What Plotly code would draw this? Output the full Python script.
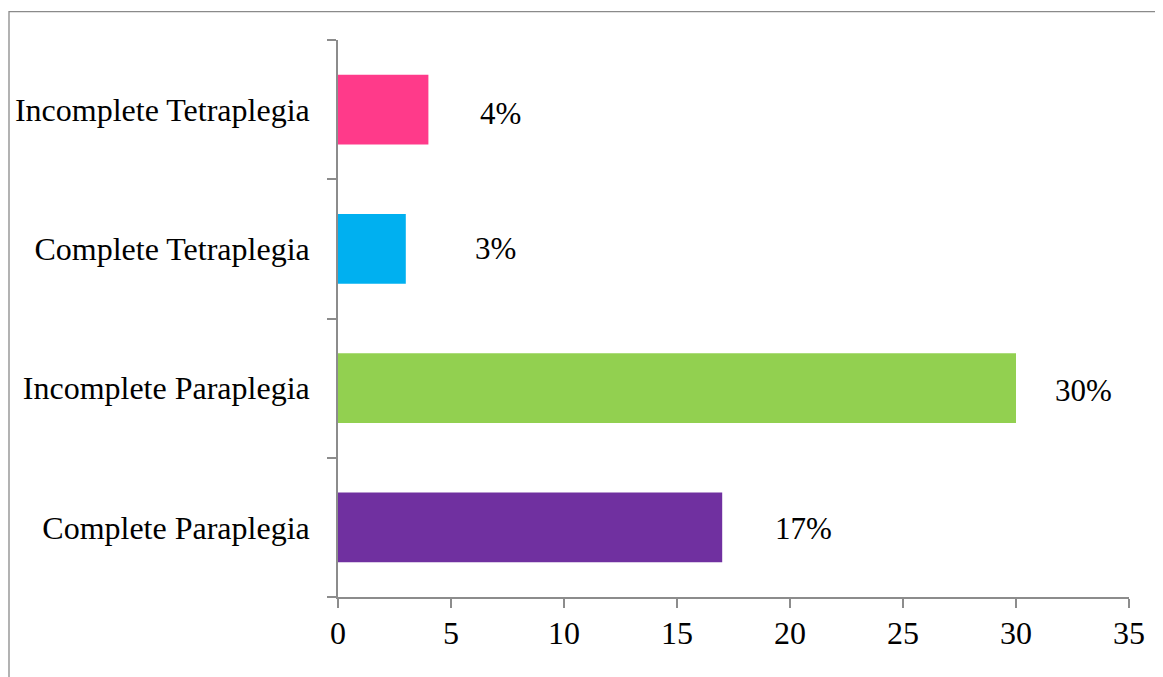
import plotly.graph_objects as go

categories = ["Complete Paraplegia", "Incomplete Paraplegia", "Complete Tetraplegia", "Incomplete Tetraplegia"]
values = [17, 30, 3, 4]
labels = ["17%", "30%", "3%", "4%"]
colors = ["#7030A0", "#92D050", "#00B0F0", "#FF3A8A"]
label_x = [20.6, 33.0, 6.95, 7.21]
label_shift = [-1, -2, 0, -4]

W, H = 1163, 677
OFF = 8  # page body margin
L, R, T, B = 338 - OFF, 34 + OFF, 40 - OFF, 80 + OFF
FONT = "Liberation Serif, Times New Roman, serif"
AXC = "#8C8C8C"

fig = go.Figure(go.Bar(
    y=categories, x=values, orientation="h",
    marker=dict(color=colors, line=dict(width=0)),
    hoverinfo="skip",
))

for c, lx, lab, sh in zip(categories, label_x, labels, label_shift):
    fig.add_annotation(x=lx, y=c, text=lab, showarrow=False, xanchor="center",
                       yanchor="middle", yshift=sh,
                       font=dict(family=FONT, size=31, color="black"))

pw = W - L - R
ph = H - T - B
bx0, bx1, by0, by1 = 9 - OFF, 1161 - OFF, 11.7 - OFF, 700
fig.add_shape(type="rect", xref="paper", yref="paper",
              x0=(bx0 - L) / pw, x1=(bx1 - L) / pw,
              y0=(H - B - by1) / ph, y1=(H - B - by0) / ph,
              line=dict(color="#8A8A8A", width=1.3), fillcolor="rgba(0,0,0,0)")

fig.update_layout(
    width=W, height=H,
    margin=dict(l=L, r=R, t=T, b=B, pad=0, autoexpand=False),
    paper_bgcolor="white", plot_bgcolor="white",
    bargap=0.5, showlegend=False,
    font=dict(family=FONT, size=32, color="black"),
)
fig.update_xaxes(range=[0, 35], dtick=5, tick0=0, showgrid=False, zeroline=False,
                 automargin=False,
                 showline=True, linecolor=AXC, linewidth=1.7,
                 ticks="outside", ticklen=9, tickwidth=1.7, tickcolor=AXC,
                 ticklabelstandoff=-2,
                 tickfont=dict(family=FONT, size=32, color="black"))
fig.update_yaxes(type="category", range=[-0.5, 3.5], tickson="boundaries",
                 showgrid=False, zeroline=False, automargin=False,
                 showline=True, linecolor=AXC, linewidth=1.7,
                 ticks="outside", ticklen=9, tickwidth=1.7, tickcolor=AXC,
                 ticklabelstandoff=20,
                 tickfont=dict(family=FONT, size=32, color="black"))

fig.write_html("out.html")
